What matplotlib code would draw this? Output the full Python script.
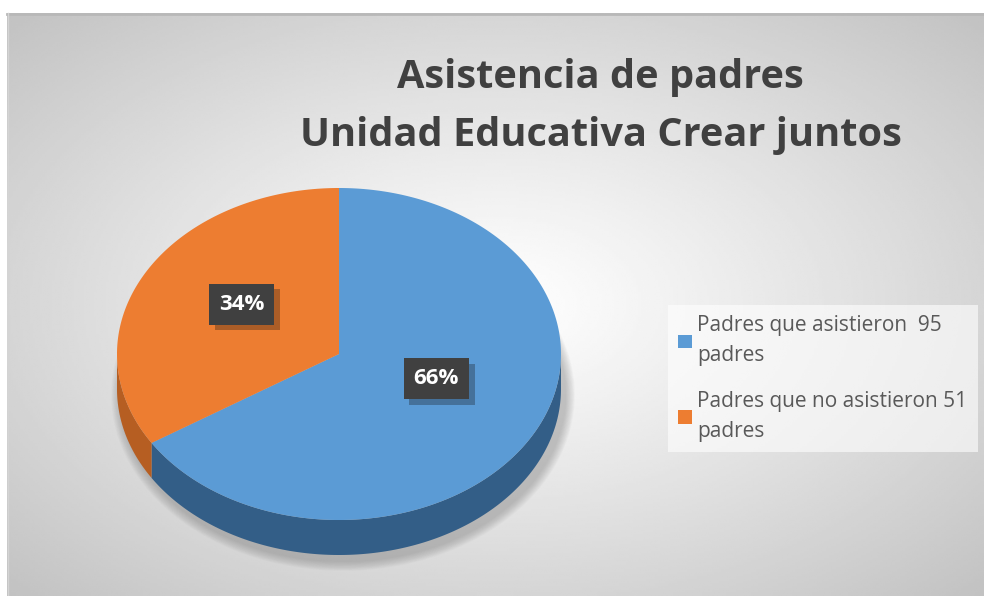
import numpy as np
import matplotlib
matplotlib.use("Agg")
import matplotlib.pyplot as plt
import matplotlib.patheffects as pe
from matplotlib.patches import Polygon, Ellipse, Patch

# data
title_lines = ["Asistencia de padres", "Unidad Educativa Crear juntos"]
shares = [66, 34]
pct_labels = ["66%", "34%"]
legend_labels = ["Padres que asistieron  95\npadres", "Padres que no asistieron 51\npadres"]
top_colors = ["#5B9BD5", "#ED7D31"]
side_colors = ["#335E87", "#B65E22"]

W, H = 984, 596
fig = plt.figure(figsize=(W / 100, H / 100), dpi=100)
ax = fig.add_axes([0, 0, 1, 1])
ax.set_xlim(0, W)
ax.set_ylim(H, 0)
ax.axis("off")

# chart area with radial gradient
x0, y0, x1, y1 = 7, 13, W, H
gx = np.linspace(-1, 1, 400)
gy = np.linspace(-1, 1, 250)
GX, GY = np.meshgrid(gx, gy)
d = np.sqrt(GX ** 2 + GY ** 2) / np.sqrt(2)
shade = 1 - 0.24 * d ** 1.1
ax.imshow(shade, cmap="gray", vmin=0, vmax=1, extent=(x0, x1, y1, y0),
          aspect="auto", zorder=0, interpolation="bilinear")
ax.plot([x0, x1], [y0 + 1, y0 + 1], color="#b8b8b8", lw=2, zorder=1)
ax.plot([x0 + 0.5, x0 + 0.5], [y0, y1], color="#d4d4d4", lw=1, zorder=1)

# 3d pie geometry
cx, cy, rx, ry, depth = 339, 354, 222, 166, 35

# soft shadow
for k in range(12):
    grow = 2 + k * 1.6
    ax.add_patch(Ellipse((cx + 4, cy + depth + 6), 2 * rx + grow, 2 * ry + grow,
                         fc="#707070", ec="none", alpha=0.035, zorder=2))

fracs = np.array(shares, dtype=float) / sum(shares)
start = 90.0
tops = []
for i, f in enumerate(fracs):
    end = start - 360 * f
    t = np.radians(np.linspace(start, end, 300))
    px = cx + rx * np.cos(t)
    py = cy - ry * np.sin(t)
    # side wall (front half only)
    vis = np.sin(t) <= 0
    if vis.sum() > 1:
        sx, sy = px[vis], py[vis]
        poly = np.column_stack([np.r_[sx, sx[::-1]], np.r_[sy, sy[::-1] + depth]])
        ax.add_patch(Polygon(poly, closed=True, fc=side_colors[i], ec="none", zorder=3))
    tops.append((np.r_[cx, px], np.r_[cy, py], (start + end) / 2))
    start = end

for i, (px, py, mid) in enumerate(tops):
    ax.add_patch(Polygon(np.column_stack([px, py]), closed=True, fc=top_colors[i],
                         ec="none", zorder=4))

# data labels
for i, (px, py, mid) in enumerate(tops):
    m = np.radians(mid)
    lx = cx + 0.5 * rx * np.cos(m)
    ly = cy - 0.5 * ry * np.sin(m) - 15
    if i == 1:
        ly += 5
    ax.text(lx, ly, pct_labels[i], fontsize=16, fontweight="bold", family="Open Sans",
            color="white", ha="center", va="center", zorder=6,
            bbox=dict(boxstyle="square,pad=0.45", fc="#404040", ec="none",
                      path_effects=[pe.SimplePatchShadow(offset=(4, -4), alpha=0.3),
                                    pe.Normal()]))

# title
ax.text(600, 88, title_lines[0], fontsize=28.6, fontweight="bold", family="Open Sans",
        color="#404040", ha="center", va="baseline", zorder=6)
ax.text(601, 146, title_lines[1], fontsize=28.6, fontweight="bold", family="Open Sans",
        color="#404040", ha="center", va="baseline", zorder=6)

# legend
handles = [Patch(fc=c, ec="none") for c in top_colors]
leg = ax.legend(handles, legend_labels, loc="upper left", bbox_to_anchor=(668, 305),
                bbox_transform=ax.transData, frameon=True, fancybox=False,
                prop={"family": "Open Sans", "size": 15}, labelcolor="#595959",
                handlelength=0.65, handleheight=0.65, handletextpad=0.25,
                borderpad=0.5, labelspacing=1.2, borderaxespad=0)
leg.get_frame().set_facecolor("white")
leg.get_frame().set_alpha(0.6)
leg.get_frame().set_edgecolor("none")
leg.set_zorder(7)
for t in leg.get_texts():
    t.set_linespacing(1.55)

fig.savefig("out.png", dpi=100)
